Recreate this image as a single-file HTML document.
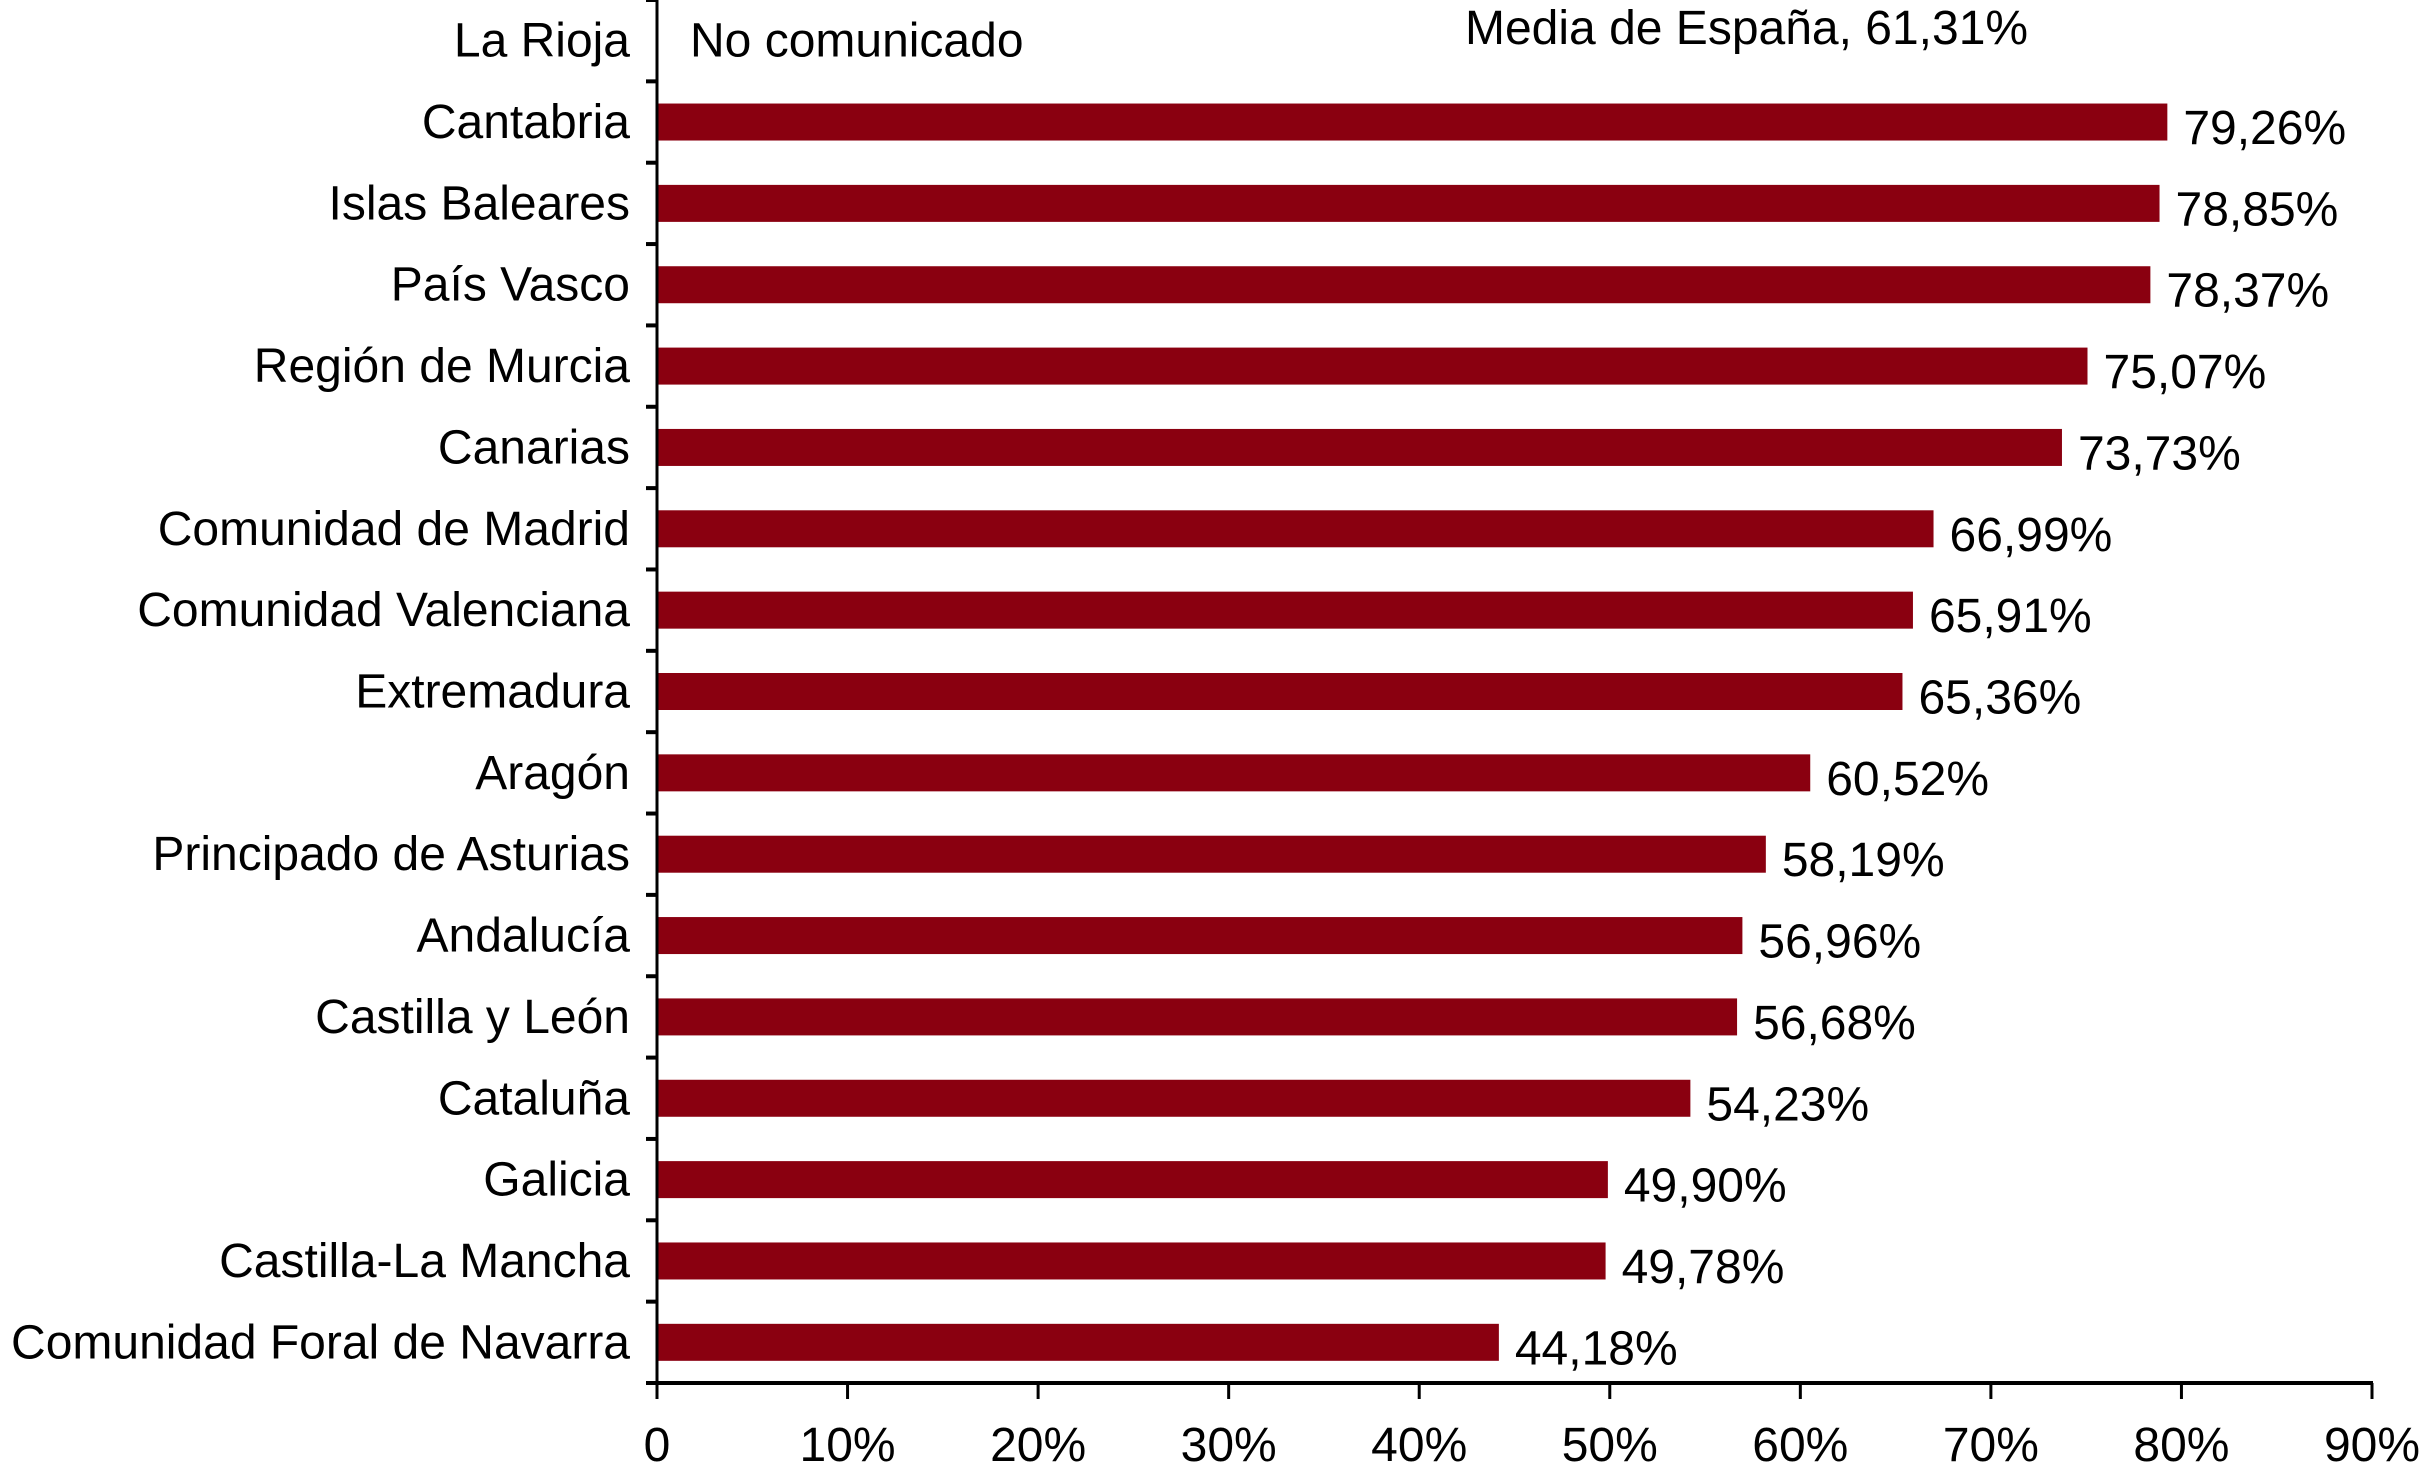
<!DOCTYPE html>
<html><head><meta charset="utf-8">
<style>
html,body{margin:0;padding:0;background:#fff;}
svg{display:block;font-family:"Liberation Sans",Arial,sans-serif;}
</style></head>
<body>
<svg id="chart" width="2428" height="1470" viewBox="0 0 2428 1470" xmlns="http://www.w3.org/2000/svg"></svg>
<script>
const categories = ["La Rioja","Cantabria","Islas Baleares","País Vasco","Región de Murcia","Canarias","Comunidad de Madrid","Comunidad Valenciana","Extremadura","Aragón","Principado de Asturias","Andalucía","Castilla y León","Cataluña","Galicia","Castilla-La Mancha","Comunidad Foral de Navarra"];
const values = [null,79.26,78.85,78.37,75.07,73.73,66.99,65.91,65.36,60.52,58.19,56.96,56.68,54.23,49.90,49.78,44.18];
const valueLabels = ["No comunicado","79,26%","78,85%","78,37%","75,07%","73,73%","66,99%","65,91%","65,36%","60,52%","58,19%","56,96%","56,68%","54,23%","49,90%","49,78%","44,18%"];
const xTicks = [0,10,20,30,40,50,60,70,80,90];
const xTickLabels = ["0","10%","20%","30%","40%","50%","60%","70%","80%","90%"];
const meanLabel = "Media de España, 61,31%";

const NS="http://www.w3.org/2000/svg";
const svg=document.getElementById('chart');
const X0=657, X1=2372, YTOP=0, YBOT=1383, XMAX=90;
const band=(YBOT-YTOP)/categories.length;
const barH=37;
const FS=48;
function xs(v){return X0+(v/XMAX)*(X1-X0);}
function yc(i){return YTOP+band*(i+0.5);}
function el(tag,attrs){const e=document.createElementNS(NS,tag);for(const k in attrs)e.setAttribute(k,attrs[k]);svg.appendChild(e);return e;}

categories.forEach((c,i)=>{
  const t=el('text',{x:630,y:yc(i)+16,'text-anchor':'end','font-size':FS,fill:'#000'});
  t.textContent=c;
  
  
  if(values[i]!=null){
    const r=el('rect',{x:X0,y:yc(i)-barH/2,width:xs(values[i])-X0,height:barH,fill:'#8a0010'});
    
    
    const l=el('text',{x:xs(values[i])+16,y:yc(i)+22,'font-size':FS,fill:'#000'});
    l.textContent=valueLabels[i];
    
    
  } else {
    const l=el('text',{x:690,y:yc(i)+16,'font-size':FS,fill:'#000'});
    l.textContent=valueLabels[i];
    
    
  }
});
for(let i=0;i<=categories.length;i++){
  const tk=el('line',{x1:X0-11,x2:X0,y1:YTOP+band*i,y2:YTOP+band*i,stroke:'#000','stroke-width':4});
  
  
}
const ya=el('line',{x1:X0,x2:X0,y1:YTOP,y2:YBOT+1,stroke:'#000','stroke-width':3});


const xa=el('line',{x1:X0-11,x2:X1+1,y1:YBOT,y2:YBOT,stroke:'#000','stroke-width':4});


xTicks.forEach((v,i)=>{
  const tk=el('line',{x1:xs(v),x2:xs(v),y1:YBOT,y2:YBOT+16,stroke:'#000','stroke-width':3});
  
  
  const t=el('text',{x:xs(v),y:1461,'text-anchor':'middle','font-size':FS,fill:'#000'});
  t.textContent=xTickLabels[i];
  
  
});
const m=el('text',{x:1465,y:44,'font-size':FS,fill:'#000'});
m.textContent=meanLabel;


</script>
</body></html>
